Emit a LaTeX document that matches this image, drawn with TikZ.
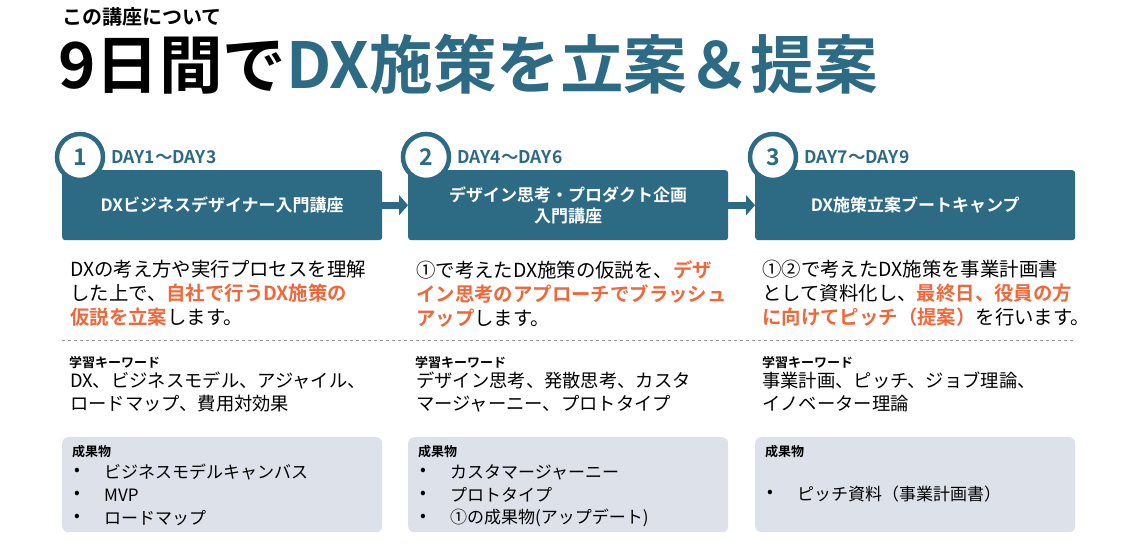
\documentclass[tikz,border=0pt]{standalone}
\usepackage{fontspec}
\setmainfont{Noto Sans CJK JP}[BoldFont={Noto Sans CJK JP Bold}]
\usetikzlibrary{arrows.meta}
\definecolor{teal}{HTML}{2D6A83}
\definecolor{accent}{HTML}{F0683A}
\definecolor{panel}{HTML}{DDE1E9}
\begin{document}
\begin{tikzpicture}[x=1pt,y=-1pt,
  stagebox/.style={fill=teal,rounded corners=3,minimum width=320,minimum height=70,text=white,font=\fontsize{17}{21}\selectfont\bfseries,align=center,anchor=north west},
  stepnum/.style={circle,draw=teal,line width=4.5,fill=white,minimum size=46,text=teal,font=\fontsize{23}{23}\selectfont\bfseries},
  daylabel/.style={anchor=west,text=teal,font=\fontsize{17.5}{17.5}\selectfont\bfseries},
  bodytext/.style={anchor=north west,align=left,inner sep=0,font=\fontsize{19.4}{24}\selectfont},
  kwhead/.style={anchor=north west,inner sep=0,font=\fontsize{13}{13}\selectfont\bfseries},
  kwtext/.style={anchor=north west,align=left,inner sep=0,font=\fontsize{18.3}{23}\selectfont},
  resultbox/.style={fill=panel,rounded corners=6,minimum width=320,minimum height=95,anchor=north west},
  flow/.style={line width=7,draw=teal,-{Triangle[length=9,width=20]}}]
\useasboundingbox (0,0) rectangle (1126,555);
% title
\node[anchor=west,inner sep=0,font=\fontsize{20}{20}\selectfont\bfseries] (kicker) at (62,17) {この講座について};
\node[anchor=west,inner sep=0,font=\fontsize{63.5}{63.5}\selectfont\bfseries] (title) at (58,64) {9日間で\textcolor{teal}{DX施策を立案＆提案}};

% stages
\foreach \i/\x/\d/\t in {1/62/DAY1〜DAY3/DXビジネスデザイナー入門講座,
                          2/408/DAY4〜DAY6/{デザイン思考・プロダクト企画\\入門講座},
                          3/755/DAY7〜DAY9/DX施策立案ブートキャンプ} {
  \node[stagebox] (box\i) at (\x,170) {\t};
  \node[stepnum] (num\i) at (\x+18,157) {\i};
  \node[daylabel] (day\i) at (\x+46,157) {\d};
  \node[resultbox] (res\i) at (\x,437) {};
  \node[kwhead] (kw\i) at (\x+7,356) {学習キーワード};
  \node[kwhead] (out\i) at (\x+10,445) {成果物};
}
\draw[flow] (box1.east) -- (box2.west);
\draw[flow] (box2.east) -- (box3.west);

% descriptions
\node[bodytext] (desc1) at (70,260) {DXの考え方や実行プロセスを理解\\した上で、\textcolor{accent}{\bfseries 自社で行うDX施策の}\\\textcolor{accent}{\bfseries 仮説を立案}します。};
\node[bodytext] (desc2) at (416,260) {①で考えたDX施策の仮説を、\textcolor{accent}{\bfseries デザ}\\\textcolor{accent}{\bfseries イン思考のアプローチでブラッシュ}\\\textcolor{accent}{\bfseries アップ}します。};
\node[bodytext] (desc3) at (762,260) {①②で考えたDX施策を事業計画書\\として資料化し、\textcolor{accent}{\bfseries 最終日、役員の方}\\\textcolor{accent}{\bfseries に向けてピッチ（提案）}を行います。};

\coordinate (sepL) at (62,340);
\coordinate (sepR) at (1075,340);
\draw[dashed,gray!80,line width=0.8] (sepL) -- (sepR);

% keywords
\node[kwtext] (kwt1) at (70,372) {DX、ビジネスモデル、アジャイル、\\ロードマップ、費用対効果};
\node[kwtext] (kwt2) at (416,372) {デザイン思考、発散思考、カスタ\\マージャーニー、プロトタイプ};
\node[kwtext] (kwt3) at (762,372) {事業計画、ピッチ、ジョブ理論、\\イノベーター理論};

% outputs
\foreach \i/\x/\y/\t in {1/62/472/ビジネスモデルキャンバス,1/62/495/MVP,1/62/518/ロードマップ,
                         2/408/472/カスタマージャーニー,2/408/495/プロトタイプ,2/408/518/①の成果物(アップデート),
                         3/755/494/ピッチ資料（事業計画書）} {
  \node[anchor=west,inner sep=0,font=\fontsize{17}{17}\selectfont] at (\x+12,\y) {•};
  \node[anchor=west,inner sep=0,font=\fontsize{17}{17}\selectfont] at (\x+42,\y) {\t};
}
\end{tikzpicture}
\end{document}
